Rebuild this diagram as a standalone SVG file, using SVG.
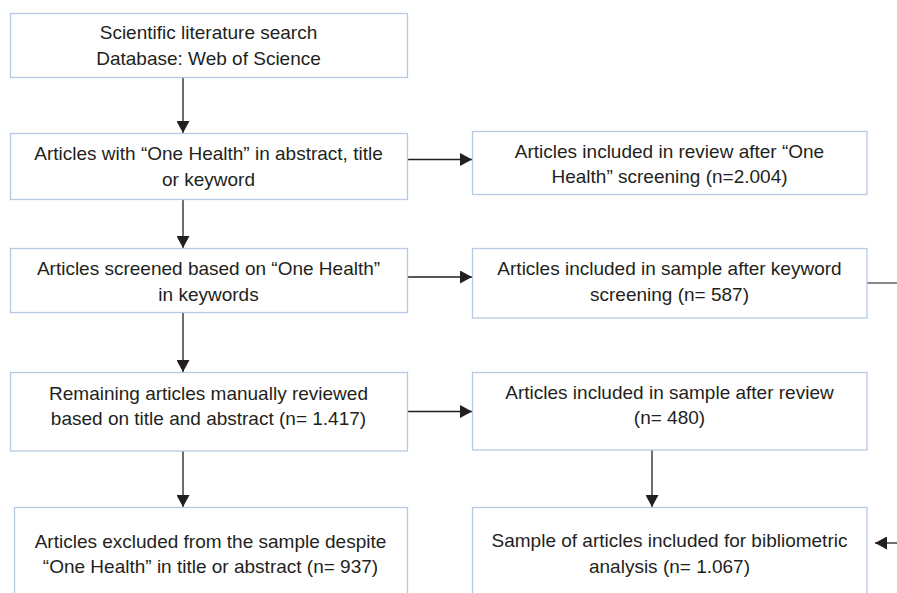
<svg xmlns="http://www.w3.org/2000/svg" width="897" height="593" viewBox="0 0 897 593">
<defs>
<marker id="ah" markerUnits="userSpaceOnUse" markerWidth="12" markerHeight="13" refX="12" refY="6.5" orient="auto">
<path d="M0,0 L12,6.5 L0,13 Z" fill="#231f20"/>
</marker>
<style>
.box{fill:#fff;stroke:#b7c8e2;stroke-width:1.3}
.t{font-family:"Liberation Sans",Arial,sans-serif;font-size:19px;fill:#231f20;text-anchor:middle}
.c{fill:none;stroke:#231f20;stroke-width:1.3}
.g{fill:none;stroke:#6d6d6d;stroke-width:1.6}
</style>
</defs>
<rect width="897" height="593" fill="#fff"/>
<g id="connectors">
<line class="c" x1="183" y1="78" x2="183" y2="133" marker-end="url(#ah)"/>
<line class="c" x1="183" y1="199" x2="183" y2="248" marker-end="url(#ah)"/>
<line class="c" x1="183" y1="312" x2="183" y2="372" marker-end="url(#ah)"/>
<line class="c" x1="183" y1="451" x2="183" y2="507" marker-end="url(#ah)"/>
<line class="c" x1="407" y1="159.5" x2="472" y2="159.5" marker-end="url(#ah)"/>
<line class="c" x1="407" y1="277" x2="472" y2="277" marker-end="url(#ah)"/>
<line class="c" x1="407" y1="411.5" x2="472" y2="411.5" marker-end="url(#ah)"/>
<line class="c" x1="652" y1="450" x2="652" y2="507" marker-end="url(#ah)"/>
<line class="g" x1="867" y1="283" x2="897" y2="283"/>
<line class="c" x1="897" y1="543" x2="875" y2="543" marker-end="url(#ah)"/>
</g>
<g id="n1">
<rect class="box" x="10.5" y="13.5" width="397" height="64"/>
<text class="t" x="208.5" y="39">Scientific literature search</text>
<text class="t" x="208.5" y="65">Database: Web of Science</text>
</g>
<g id="n2">
<rect class="box" x="10.5" y="133.5" width="397" height="66"/>
<text class="t" x="208.5" y="160">Articles with “One Health” in abstract, title</text>
<text class="t" x="208.5" y="186">or keyword</text>
</g>
<g id="n3">
<rect class="box" x="10.5" y="248.5" width="397" height="64"/>
<text class="t" x="208.5" y="274.5">Articles screened based on “One Health”</text>
<text class="t" x="208.5" y="300.5">in keywords</text>
</g>
<g id="n4">
<rect class="box" x="10.5" y="372.5" width="397" height="78.5"/>
<text class="t" x="208.5" y="399.5">Remaining articles manually reviewed</text>
<text class="t" x="208.5" y="424.5">based on title and abstract (n= 1.417)</text>
</g>
<g id="n5">
<rect class="box" x="14.5" y="507.5" width="393" height="100"/>
<text class="t" x="210.5" y="547.5">Articles excluded from the sample despite</text>
<text class="t" x="210.5" y="573">“One Health” in title or abstract (n= 937)</text>
</g>
<g id="r1">
<rect class="box" x="472.5" y="131.5" width="394.5" height="63"/>
<text class="t" x="669.5" y="157.5">Articles included in review after “One</text>
<text class="t" x="669.5" y="183">Health” screening (n=2.004)</text>
</g>
<g id="r2">
<rect class="box" x="472.5" y="248.5" width="394.5" height="69.5"/>
<text class="t" x="669.5" y="275">Articles included in sample after keyword</text>
<text class="t" x="669.5" y="300.5">screening (n= 587)</text>
</g>
<g id="r3">
<rect class="box" x="472.5" y="372.5" width="394.5" height="77.5"/>
<text class="t" x="669.5" y="398.5">Articles included in sample after review</text>
<text class="t" x="669.5" y="424">(n= 480)</text>
</g>
<g id="r4">
<rect class="box" x="472.5" y="507.5" width="394.5" height="100"/>
<text class="t" x="669.5" y="547">Sample of articles included for bibliometric</text>
<text class="t" x="669.5" y="572.5">analysis (n= 1.067)</text>
</g>
</svg>
